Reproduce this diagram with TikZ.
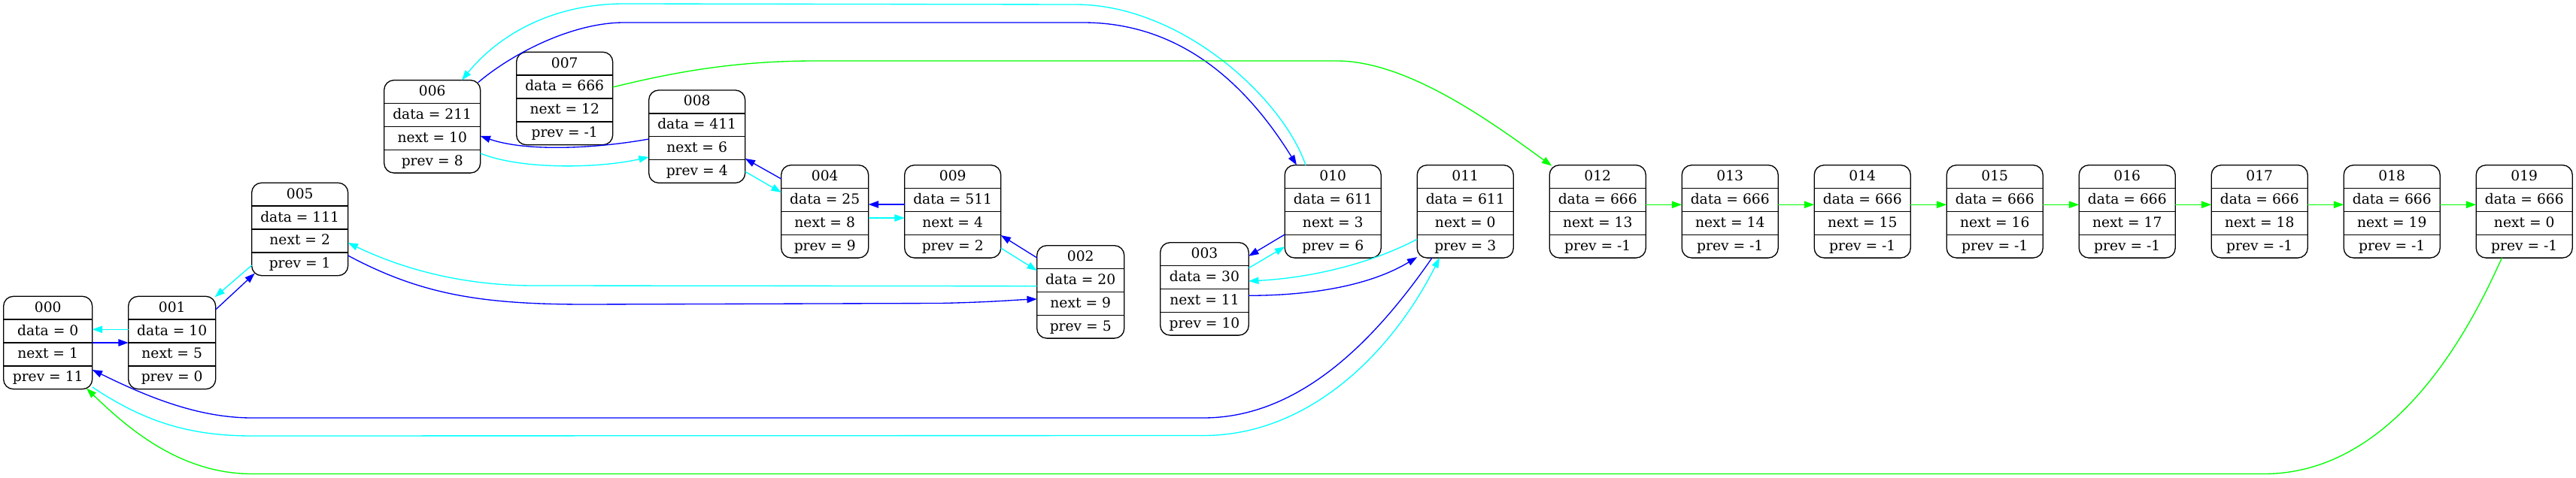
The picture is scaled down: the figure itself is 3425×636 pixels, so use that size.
\documentclass[tikz,border=0pt]{standalone}
\usepackage{fontspec}
\setmainfont{DejaVu Serif}
\usetikzlibrary{calc,arrows.meta}
\definecolor{bl}{RGB}{0,0,255}
\definecolor{cy}{RGB}{0,255,255}
\definecolor{gr}{RGB}{0,255,0}
\tikzset{
  box/.style={draw, line width=1.33pt, rounded corners=13pt, minimum height=123.4pt, inner sep=0pt, outer sep=0pt},
  sepl/.style={line width=1.33pt},
  txt/.style={anchor=base, inner sep=0pt, font=\fontsize{18.67pt}{22pt}\selectfont},
  edge/.style={line width=1.33pt, -{Triangle[length=13.3pt,width=9.3pt]}},
  eb/.style={edge, color=bl},
  ec/.style={edge, color=cy},
  eg/.style={edge, color=gr}
}
\newcommand\rec[8]{%
  \node[box, minimum width=#4pt, anchor=north west] (#1) at (#2,#3) {};
  \foreach \k in {1,2,3} \draw[sepl] ($(#1.north west)+(0,30.85*\k)$) -- ($(#1.north east)+(0,30.85*\k)$);
  \node[txt] (#1a) at ($(#1.north)+(0,20.85)$) {#5};
  \node[txt] (#1b) at ($(#1.north)+(0,51.7)$) {#6};
  \node[txt] (#1c) at ($(#1.north)+(0,82.55)$) {#7};
  \node[txt] (#1d) at ($(#1.north)+(0,113.4)$) {#8};
}
\begin{document}
\begin{tikzpicture}[x=1pt, y=-1pt]
\fill[white] (0,0) rectangle (3425,636);
\useasboundingbox (0,0) rectangle (3425,636);

\rec{n000}{4.7}{394.3}{118}{000}{data = 0}{next = 1}{prev = 11}
\rec{n001}{170.7}{394.3}{116}{001}{data = 10}{next = 5}{prev = 0}
\rec{n005}{334.7}{243.3}{128}{005}{data = 111}{next = 2}{prev = 1}
\rec{n006}{510.7}{106.7}{128}{006}{data = 211}{next = 10}{prev = 8}
\rec{n007}{686.7}{69.3}{128}{007}{data = 666}{next = 12}{prev = -1}
\rec{n008}{862.7}{120}{128}{008}{data = 411}{next = 6}{prev = 4}
\rec{n004}{1038.7}{219.7}{116}{004}{data = 25}{next = 8}{prev = 9}
\rec{n009}{1202.7}{219.7}{128}{009}{data = 511}{next = 4}{prev = 2}
\rec{n002}{1378.7}{326.7}{116}{002}{data = 20}{next = 9}{prev = 5}
\rec{n003}{1542.7}{322.7}{117.5}{003}{data = 30}{next = 11}{prev = 10}
\rec{n010}{1708.2}{219.7}{128}{010}{data = 611}{next = 3}{prev = 6}
\rec{n011}{1884.2}{219.7}{128}{011}{data = 611}{next = 0}{prev = 3}
\rec{n012}{2060.2}{219.7}{128}{012}{data = 666}{next = 13}{prev = -1}
\rec{n013}{2236.2}{219.7}{128}{013}{data = 666}{next = 14}{prev = -1}
\rec{n014}{2412.2}{219.7}{128}{014}{data = 666}{next = 15}{prev = -1}
\rec{n015}{2588.2}{219.7}{128}{015}{data = 666}{next = 16}{prev = -1}
\rec{n016}{2764.2}{219.7}{128}{016}{data = 666}{next = 17}{prev = -1}
\rec{n017}{2940.2}{219.7}{128}{017}{data = 666}{next = 18}{prev = -1}
\rec{n018}{3116.2}{219.7}{128}{018}{data = 666}{next = 19}{prev = -1}
\rec{n019}{3292.2}{219.7}{128}{019}{data = 666}{next = 0}{prev = -1}

% next pointers (blue)
\draw[eb] (n000.east |- 0,456) -- (n001.west |- 0,456);
\draw[eb] (n001.east |- 0,412) -- ($(n005.south west)+(4,-3)$);
\draw[eb] (n005.east |- 0,340) .. controls (560,392) and (640,405) .. (780,405) -- (1250,403.5) .. controls (1320,402) and (1350,399) .. (n002.west |- 0,398);
\draw[eb] (n002.west |- 0,343) -- (n009.east |- 0,313);
\draw[eb] (n009.west |- 0,272) -- (n004.east |- 0,272);
\draw[eb] (n004.west |- 0,238) -- (n008.east |- 0,211);
\draw[eb] (n008.west |- 0,185) .. controls (790,198) and (700,202) .. (n006.east |- 0,181);
\draw[eb] ($(n006.north east)+(-3,3)$) .. controls (680,72) and (760,30) .. (830,30) -- (1440,30) .. controls (1560,30) and (1650,100) .. ($(n010.north west)+(15.8,0)$);
\draw[eb] (n010.west |- 0,312) -- ($(n003.north east)+(0,18)$);
\draw[eb] (n003.east |- 0,393.3) .. controls (1760,393) and (1830,375) .. ($(n011.south west)+(0,-1)$);
\draw[eb] ($(n011.south west)+(19.8,0)$) .. controls (1830,450) and (1730,556) .. (1600,556) -- (335,556) .. controls (260,556) and (190,525) .. (n000.east |- 0,492);

% prev pointers (cyan)
\draw[ec] (n001.west |- 0,438.3) -- (n000.east |- 0,438.3);
\draw[ec] (n005.west |- 0,353) -- ($(n001.north east)+(-1,1)$);
\draw[ec] (n002.west |- 0,380.7) -- (710,380) .. controls (620,380) and (540,360) .. (n005.east |- 0,323);
\draw[ec] (n009.east |- 0,330) -- (n002.west |- 0,360);
\draw[ec] (n004.east |- 0,290) -- (n009.west |- 0,290);
\draw[ec] (n008.east |- 0,228.3) -- (n004.west |- 0,256);
\draw[ec] (n006.east |- 0,204) .. controls (690,225) and (790,225) .. (n008.west |- 0,209);
\draw[ec] ($(n010.north west)+(27.8,0)$) .. controls (1705,130) and (1570,6) .. (1430,6) -- (830,5) .. controls (730,5) and (660,50) .. ($(n006.north west)+(103.3,0)$);
\draw[ec] (n003.east |- 0,356.7) -- (n010.west |- 0,328.3);
\draw[ec] (n011.west |- 0,318.3) .. controls (1820,352) and (1740,370) .. (n003.east |- 0,374);
\draw[ec] ($(n000.south east)+(0,-2.7)$) .. controls (190,560) and (250,580) .. (335,580) -- (1600,579.5) .. controls (1740,579.5) and (1850,470) .. ($(n011.south west)+(29.8,0)$);

% free list (green)
\draw[eg] (n007.east |- 0,116) .. controls (900,95) and (980,81) .. (1085,81) -- (1777,81) .. controls (1870,81) and (1980,160) .. ($(n012.north west)+(3,1)$);
\foreach \a/\b in {012/013,013/014,014/015,015/016,016/017,017/018,018/019}
  \draw[eg] (n\a.east |- 0,272.3) -- (n\b.west |- 0,272.3);
\draw[eg] ($(n019.south west)+(34.3,0)$) .. controls (3300,400) and (3200,630.5) .. (3010,630.5) -- (335,630.5) .. controls (240,630.5) and (170,570) .. ($(n000.south west)+(110.3,-1)$);
\end{tikzpicture}
\end{document}
